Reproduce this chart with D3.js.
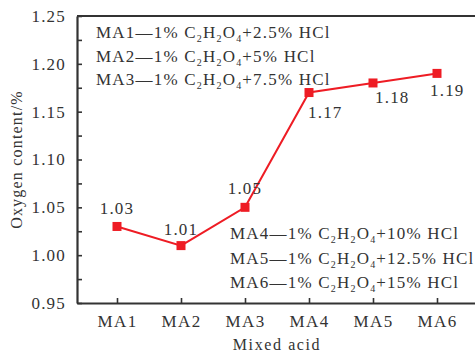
<!DOCTYPE html>
<html><head><meta charset="utf-8">
<script src="https://cdn.jsdelivr.net/npm/d3@7"></script>
<style>
html,body{margin:0;padding:0;background:#fff;}
</style></head>
<body><svg id="c" width="475" height="353"></svg>
<script>
const categories = ["MA1","MA2","MA3","MA4","MA5","MA6"];
const oxygen = [1.03,1.01,1.05,1.17,1.18,1.19];
const valueLabels = ["1.03","1.01","1.05","1.17","1.18","1.19"];
const yTicks = [0.95,1.00,1.05,1.10,1.15,1.20,1.25];
const yMinorTicks = [0.975,1.025,1.075,1.125,1.175,1.225];
const legendTop = [["MA1","1%","2.5%"],["MA2","1%","5%"],["MA3","1%","7.5%"]];
const legendBottom = [["MA4","1%","10%"],["MA5","1%","12.5%"],["MA6","1%","15%"]];
// label placement: [dx, dy, anchor]
const labelPos = [[0,-18,"middle"],[0,-17,"middle"],[0,-19,"middle"],[-1,20,"start"],[2,14,"start"],[-7,17,"start"]];

const FONT = '"Liberation Serif", "Times New Roman", serif';
const svg = d3.select("#c");
const L=77, R=477, T=16, B=303;
const x = d3.scalePoint().domain(categories).range([L,R]).padding(0.625);
const y = d3.scaleLinear().domain([0.95,1.25]).range([B,T]);
const red = "#ee1c24", axisCol = "#333";

svg.append("line").attr("x1",L).attr("x2",R).attr("y1",T).attr("y2",T).attr("stroke",axisCol).attr("stroke-width",2);

const yAxis = d3.axisLeft(y).tickValues(yTicks).tickFormat(d3.format(".2f")).tickSizeInner(-5).tickSizeOuter(0).tickPadding(11);
const gy = svg.append("g").attr("transform",`translate(${L},0)`).call(yAxis);
gy.select(".domain").attr("stroke",axisCol).attr("stroke-width",2.2);
gy.selectAll(".tick line").attr("stroke",axisCol).attr("stroke-width",1.6);
gy.selectAll(".tick text").attr("font-size",17).attr("letter-spacing",1.2).attr("fill","#333");
const gym = svg.append("g").attr("transform",`translate(${L},0)`).call(d3.axisLeft(y).tickValues(yMinorTicks).tickSize(-5).tickFormat(""));
gym.select(".domain").remove();
gym.selectAll(".tick line").attr("stroke",axisCol).attr("stroke-width",1.6);

const xAxis = d3.axisBottom(x).tickSizeInner(-5).tickSizeOuter(0).tickPadding(12);
const gx = svg.append("g").attr("transform",`translate(0,${B})`).call(xAxis);
gx.select(".domain").attr("stroke",axisCol).attr("stroke-width",2.2);
gx.selectAll(".tick line").attr("stroke",axisCol).attr("stroke-width",1.6);
gx.selectAll(".tick text").attr("font-size",17).attr("letter-spacing",1.4).attr("fill","#333");

svg.append("text").attr("transform",`translate(22,${(T+B)/2}) rotate(-90)`).attr("text-anchor","middle")
  .attr("font-size",16).attr("letter-spacing",1.2).attr("fill","#333").text("Oxygen content/%");
svg.append("text").attr("x",(L+R)/2).attr("y",350).attr("text-anchor","middle")
  .attr("font-size",16).attr("letter-spacing",1.6).attr("fill","#333").text("Mixed acid");

const pts = categories.map((c,i)=>({c,v:oxygen[i],lab:valueLabels[i],p:labelPos[i]}));
svg.append("path").datum(pts).attr("fill","none").attr("stroke",red).attr("stroke-width",2)
  .attr("d",d3.line().x(d=>x(d.c)).y(d=>y(d.v)));
svg.selectAll("rect.m").data(pts).enter().append("rect").attr("class","m")
  .attr("x",d=>x(d.c)-4.5).attr("y",d=>y(d.v)-4.5).attr("width",9).attr("height",9).attr("fill",red);
svg.selectAll("text.v").data(pts).enter().append("text").attr("class","v")
  .attr("x",d=>x(d.c)+d.p[0]).attr("y",d=>y(d.v)+d.p[1]).attr("dy","0.35em").attr("fill","#333")
  .attr("text-anchor",d=>d.p[2]).attr("font-size",17).attr("letter-spacing",1.2).text(d=>d.lab);

function legend(rows, x0, y0, dy){
  rows.forEach((r,i)=>{
    const t = svg.append("text").attr("x",x0).attr("y",y0+i*dy).attr("font-size",17).attr("letter-spacing",1.2).attr("fill","#333");
    t.append("tspan").text(`${r[0]}\u2014${r[1]} C`);
    t.append("tspan").attr("font-size",10).attr("dy",4).text("2");
    t.append("tspan").attr("dy",-4).text("H");
    t.append("tspan").attr("font-size",10).attr("dy",4).text("2");
    t.append("tspan").attr("dy",-4).text("O");
    t.append("tspan").attr("font-size",10).attr("dy",4).text("4");
    t.append("tspan").attr("dy",-4).text(`+${r[2]} HCl`);
  });
}
legend(legendTop, 96, 38, 23.5);
legend(legendBottom, 230, 239, 24.5);

svg.selectAll("text").style("font-family", FONT);
</script></body></html>
